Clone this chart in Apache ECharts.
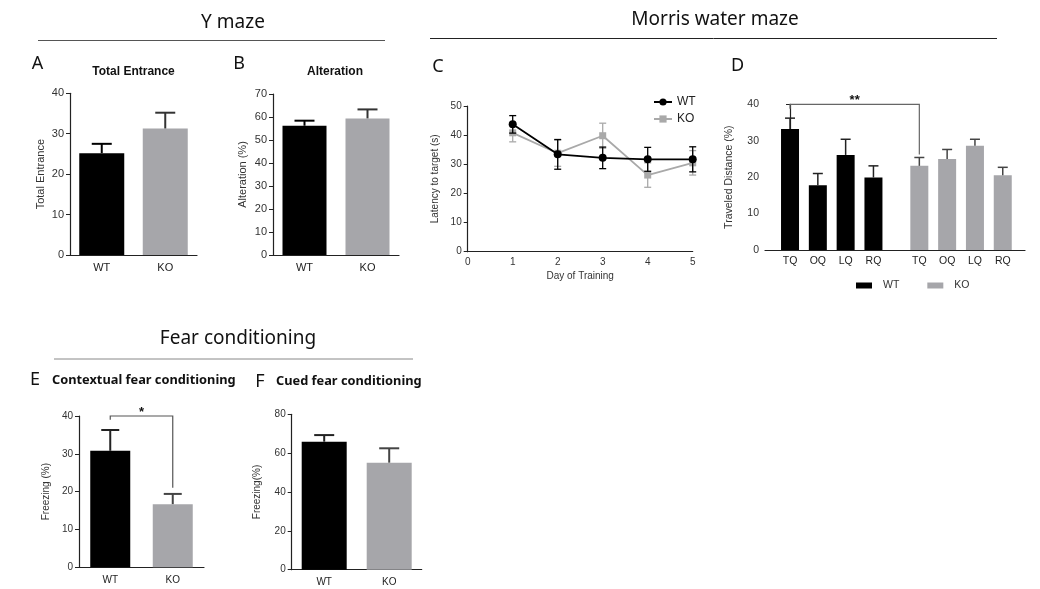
<!DOCTYPE html>
<html><head><meta charset="utf-8">
<script src="https://cdn.jsdelivr.net/npm/echarts@6/dist/echarts.min.js"></script>
<style>html,body{margin:0;padding:0;background:#fff}#c{width:1040px;height:589px}</style>
</head><body><div id="c"></div>
<script>
// ---------- Data ----------
const groups = ['WT', 'KO'];
const totalEntrance = [25.2, 31.3];
const totalEntranceSem = [2.3, 3.9];
const alteration = [56.2, 59.4];
const alterationSem = [2.2, 3.9];
const trainingDays = [1, 2, 3, 4, 5];
const wtLatency = [43.7, 33.4, 32.2, 31.7, 31.7];
const wtLatencySem = [3.0, 5.1, 3.7, 4.1, 4.3];
const koLatency = [40.8, 33.8, 39.8, 26.3, 30.5];
const koLatencySem = [3.1, 4.5, 4.3, 4.2, 4.2];
const quadrants = ['TQ', 'OQ', 'LQ', 'RQ'];
const wtDistance = [33.2, 17.8, 26.1, 19.9];
const wtDistanceSem = [3.0, 3.2, 4.3, 3.2];
const koDistance = [23.1, 25.0, 28.6, 20.5];
const koDistanceSem = [2.3, 2.6, 1.8, 2.2];
const contextualFreezing = [30.8, 16.7];
const contextualFreezingSem = [5.5, 2.7];
const cuedFreezing = [65.9, 55.1];
const cuedFreezingSem = [3.4, 7.4];

// ---------- Style / layout ----------
const FONT = '"Liberation Sans", Arial, sans-serif';
const TFONT = '"Noto Sans", "Open Sans", sans-serif';
const BLACK = '#000000', GRAY = '#a6a6aa', LGRAY = '#a9a9a9';
const AX = '#222';
const KO_OFFSET = 4.65; // gap between quadrant groups in panel D (layout)

const chart = echarts.init(document.getElementById('c'), null, {renderer: 'canvas'});

function yAx(gridIndex, max, interval, name, nameGap, fs) {
  return {type: 'value', gridIndex, min: 0, max, interval, name, nameLocation: 'middle', nameRotate: 90, nameGap,
    nameTextStyle: {fontFamily: FONT, fontSize: fs, color: '#333'},
    axisLine: {show: true, lineStyle: {color: AX, width: 1.2}},
    axisTick: {show: true, length: 4, lineStyle: {color: AX, width: 1}},
    axisLabel: {fontFamily: FONT, fontSize: fs, color: '#333', margin: 6},
    splitLine: {show: false}};
}
function catAx(gridIndex, margin, fs) {
  return {type: 'category', gridIndex, data: groups,
    axisLine: {lineStyle: {color: AX, width: 1.2}}, axisTick: {show: false},
    axisLabel: {fontFamily: FONT, fontSize: fs, color: '#222', margin}};
}
function barData(vals) {
  return vals.map((v, i) => ({value: v, itemStyle: {color: i === 0 ? BLACK : GRAY}}));
}
function errSeries(xi, data, opts) {
  return {type: 'custom', xAxisIndex: xi, yAxisIndex: xi, z: opts.z || 5, silent: true, data,
    encode: {x: 0, y: 1},
    renderItem(params, api) {
      const x = api.value(0), m = api.value(1), s = api.value(2);
      const col = opts.colors ? opts.colors[params.dataIndex] : opts.color;
      const top = api.coord([x, m + s]);
      const base = api.coord([x, opts.both ? m - s : m]);
      const hw = opts.cap / 2;
      const st = {stroke: col, lineWidth: opts.lw};
      const ch = [
        {type: 'line', shape: {x1: top[0], y1: top[1], x2: base[0], y2: base[1]}, style: st},
        {type: 'line', shape: {x1: top[0] - hw, y1: top[1], x2: top[0] + hw, y2: top[1]}, style: st}
      ];
      if (opts.both) ch.push({type: 'line', shape: {x1: base[0] - hw, y1: base[1], x2: base[0] + hw, y2: base[1]}, style: st});
      return {type: 'group', children: ch};
    }};
}
function bracketSeries(xi, spec) {
  return {type: 'custom', xAxisIndex: xi, yAxisIndex: xi, z: 6, silent: true,
    data: [[spec.x1, spec.y, spec.x2, spec.leftEnd, spec.rightEnd]],
    encode: {x: [0, 2], y: [1, 3, 4]},
    renderItem(params, api) {
      const a = api.coord([spec.x1, spec.y]), b = api.coord([spec.x2, spec.y]);
      const l = api.coord([spec.x1, spec.leftEnd]), r = api.coord([spec.x2, spec.rightEnd]);
      return {type: 'group', children: [
        {type: 'polyline', shape: {points: [l, a, b, r]}, style: {stroke: spec.color, lineWidth: 1.2, fill: null}},
        {type: 'text', x: (a[0] + b[0]) / 2, y: a[1] + spec.labelDy,
          style: {text: spec.label, fill: '#111', font: 'bold 13px ' + FONT, align: 'center', verticalAlign: 'middle'}}
      ]};
    }};
}
const pack = (vals, sems, xs) => vals.map((v, i) => [xs ? xs[i] : i, v, sems[i]]);

const dX = quadrants.map((q, i) => i);
const dXko = quadrants.map((q, i) => i + KO_OFFSET);
const dLabelPos = dX.concat(dXko);
const dLabels = quadrants.concat(quadrants);

const option = {
  backgroundColor: '#fff',
  animation: false,
  grid: [
    {left: 70, top: 93.3, width: 127, height: 161.7},
    {left: 273, top: 94, width: 126, height: 161},
    {left: 467.7, top: 106, width: 225, height: 145.7},
    {left: 765, top: 104.3, width: 260, height: 145.7},
    {left: 79, top: 416, width: 125, height: 151.3},
    {left: 291.7, top: 414.3, width: 130, height: 155.4}
  ],
  xAxis: [
    catAx(0, 7, 11),
    catAx(1, 7, 11),
    {type: 'value', gridIndex: 2, min: 0, max: 5, interval: 1, name: 'Day of Training', nameLocation: 'middle', nameGap: 20,
      nameTextStyle: {fontFamily: FONT, fontSize: 10, color: '#333'},
      axisLine: {show: true, lineStyle: {color: AX, width: 1.2}}, axisTick: {show: false},
      axisLabel: {fontFamily: FONT, fontSize: 10, color: '#333', margin: 6}, splitLine: {show: false}},
    {type: 'value', gridIndex: 3, min: -0.9, max: 8.45, interval: 0.05,
      axisLine: {show: true, lineStyle: {color: AX, width: 1.2}}, axisTick: {show: false}, splitLine: {show: false},
      axisLabel: {fontFamily: FONT, fontSize: 10.5, color: '#222', margin: 6, showMinLabel: true, showMaxLabel: true,
        formatter: v => { const k = dLabelPos.findIndex(p => Math.abs(p - v) < 0.01); return k >= 0 ? dLabels[k] : ''; }}},
    catAx(4, 8, 10),
    catAx(5, 8, 10)
  ],
  yAxis: [
    yAx(0, 40, 10, 'Total Entrance', 24, 11),
    yAx(1, 70, 10, 'Alteration (%)', 25, 11),
    yAx(2, 50, 10, 'Latency to target (s)', 27, 10),
    yAx(3, 40, 10, 'Traveled Distance (%)', 30, 10.5),
    yAx(4, 40, 10, 'Freezing (%)', 28, 10),
    yAx(5, 80, 20, 'Freezing(%)', 29, 10)
  ],
  legend: [
    {orient: 'vertical', left: 648, top: 91, itemWidth: 18, itemHeight: 9, itemGap: 5,
      data: ['WT', 'KO'], textStyle: {fontFamily: FONT, fontSize: 12, color: '#222'}, selectedMode: false},
    {orient: 'horizontal', left: 851, top: 275, itemWidth: 16, itemHeight: 6, itemGap: 28, icon: 'rect',
      data: ['WT_D', 'KO_D'], formatter: n => n.split('_')[0],
      textStyle: {fontFamily: FONT, fontSize: 10.5, color: '#333', padding: [0, 0, 0, 6]}, selectedMode: false}
  ],
  series: [
    // A
    {type: 'bar', xAxisIndex: 0, yAxisIndex: 0, barWidth: 45, data: barData(totalEntrance)},
    errSeries(0, pack(totalEntrance, totalEntranceSem), {colors: ['#000', '#333'], lw: 2, cap: 20}),
    // B
    {type: 'bar', xAxisIndex: 1, yAxisIndex: 1, barWidth: 44, data: barData(alteration)},
    errSeries(1, pack(alteration, alterationSem), {colors: ['#000', '#333'], lw: 2, cap: 20}),
    // C
    {name: 'KO', type: 'line', xAxisIndex: 2, yAxisIndex: 2, data: koLatency.map((v, i) => [trainingDays[i], v]),
      symbol: 'rect', symbolSize: 7, itemStyle: {color: LGRAY}, lineStyle: {color: LGRAY, width: 1.8}, z: 3},
    errSeries(2, pack(koLatency, koLatencySem, trainingDays), {color: LGRAY, lw: 1.3, cap: 7, both: true, z: 3}),
    errSeries(2, pack(wtLatency, wtLatencySem, trainingDays), {color: '#000', lw: 1.3, cap: 7, both: true, z: 4}),
    {name: 'WT', type: 'line', xAxisIndex: 2, yAxisIndex: 2, data: wtLatency.map((v, i) => [trainingDays[i], v]),
      symbol: 'circle', symbolSize: 8, itemStyle: {color: '#000'}, lineStyle: {color: '#000', width: 1.8}, z: 5},
    // D
    {name: 'WT_D', type: 'bar', xAxisIndex: 3, yAxisIndex: 3, barWidth: 18, itemStyle: {color: BLACK},
      data: wtDistance.map((v, i) => [dX[i], v])},
    {name: 'KO_D', type: 'bar', xAxisIndex: 3, yAxisIndex: 3, barWidth: 18, barGap: '-100%', itemStyle: {color: GRAY},
      data: koDistance.map((v, i) => [dXko[i], v])},
    errSeries(3, pack(wtDistance, wtDistanceSem, dX), {color: '#222', lw: 1.5, cap: 10}),
    errSeries(3, pack(koDistance, koDistanceSem, dXko), {color: '#444', lw: 1.5, cap: 10}),
    bracketSeries(3, {x1: 0, x2: KO_OFFSET, y: 40, leftEnd: 38.8, rightEnd: 26.2, label: '**', labelDy: -4, color: '#666'}),
    // E
    {type: 'bar', xAxisIndex: 4, yAxisIndex: 4, barWidth: 40, data: barData(contextualFreezing)},
    errSeries(4, pack(contextualFreezing, contextualFreezingSem), {colors: ['#222', '#444'], lw: 2, cap: 18}),
    bracketSeries(4, {x1: 0, x2: 1, y: 40, leftEnd: 39, rightEnd: 21, label: '*', labelDy: -4, color: '#555'}),
    // F
    {type: 'bar', xAxisIndex: 5, yAxisIndex: 5, barWidth: 45, data: barData(cuedFreezing)},
    errSeries(5, pack(cuedFreezing, cuedFreezingSem), {colors: ['#222', '#444'], lw: 2, cap: 20})
  ],
  graphic: [
    // Section titles
    {type: 'text', x: 233, y: 23, style: {text: 'Y maze', font: '19px ' + TFONT, fill: '#111', align: 'center', verticalAlign: 'middle'}},
    {type: 'line', shape: {x1: 38, y1: 40.5, x2: 385, y2: 40.5}, style: {stroke: '#555', lineWidth: 1}},
    {type: 'text', x: 715, y: 20, style: {text: 'Morris water maze', font: '19px ' + TFONT, fill: '#111', align: 'center', verticalAlign: 'middle'}},
    {type: 'line', shape: {x1: 430, y1: 38.5, x2: 997, y2: 38.5}, style: {stroke: '#222', lineWidth: 1}},
    {type: 'text', x: 238, y: 339, style: {text: 'Fear conditioning', font: '19px ' + TFONT, fill: '#111', align: 'center', verticalAlign: 'middle'}},
    {type: 'line', shape: {x1: 54, y1: 359, x2: 413, y2: 359}, style: {stroke: '#888', lineWidth: 1}},
    // Panel letters
    {type: 'text', x: 37.5, y: 64, style: {text: 'A', font: '18px ' + TFONT, fill: '#111', align: 'center', verticalAlign: 'middle'}},
    {type: 'text', x: 239, y: 64, style: {text: 'B', font: '18px ' + TFONT, fill: '#111', align: 'center', verticalAlign: 'middle'}},
    {type: 'text', x: 438, y: 67, style: {text: 'C', font: '18px ' + TFONT, fill: '#111', align: 'center', verticalAlign: 'middle'}},
    {type: 'text', x: 737.5, y: 65.5, style: {text: 'D', font: '18px ' + TFONT, fill: '#111', align: 'center', verticalAlign: 'middle'}},
    {type: 'text', x: 35, y: 380, style: {text: 'E', font: '18px ' + TFONT, fill: '#111', align: 'center', verticalAlign: 'middle'}},
    {type: 'text', x: 260, y: 382, style: {text: 'F', font: '18px ' + TFONT, fill: '#111', align: 'center', verticalAlign: 'middle'}},
    // Panel titles
    {type: 'text', x: 133.5, y: 72, style: {text: 'Total Entrance', font: 'bold 12px ' + FONT, fill: '#111', align: 'center', verticalAlign: 'middle'}},
    {type: 'text', x: 335, y: 72, style: {text: 'Alteration', font: 'bold 12px ' + FONT, fill: '#111', align: 'center', verticalAlign: 'middle'}},
    {type: 'text', x: 52, y: 380, style: {text: 'Contextual fear conditioning', font: 'bold 12.8px ' + TFONT, fill: '#111', align: 'left', verticalAlign: 'middle'}},
    {type: 'text', x: 276, y: 381, style: {text: 'Cued fear conditioning', font: 'bold 12.8px ' + TFONT, fill: '#111', align: 'left', verticalAlign: 'middle'}}
  ]
};
chart.setOption(option);
</script>
</body></html>
